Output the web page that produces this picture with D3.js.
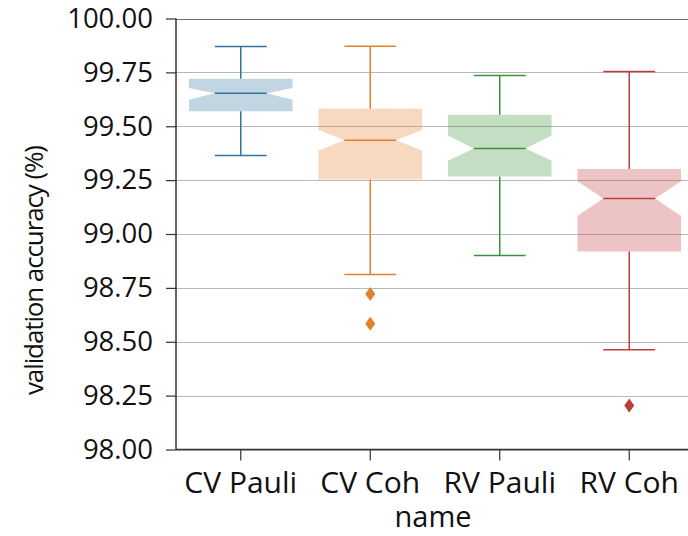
<!DOCTYPE html>
<html>
<head>
<meta charset="utf-8">
<script src="https://cdn.jsdelivr.net/npm/d3@7"></script>
<style>
  html, body { margin: 0; padding: 0; background: #fff; }
  svg { display: block; font-family: "Open Sans", "Noto Sans", sans-serif; }
</style>
</head>
<body>
<svg id="chart" width="688" height="536"></svg>
<script>
// Box statistics per model (validation accuracy, %)
const names       = ["CV Pauli", "CV Coh", "RV Pauli", "RV Coh"];
const whiskerHigh = [99.870, 99.871, 99.735, 99.754];
const q3          = [99.720, 99.581, 99.553, 99.302];
const notchHigh   = [99.678, 99.483, 99.457, 99.245];
const medians     = [99.653, 99.435, 99.397, 99.165];
const notchLow    = [99.623, 99.387, 99.340, 99.083];
const q1          = [99.570, 99.253, 99.267, 98.919];
const whiskerLow  = [99.364, 98.812, 98.900, 98.463];
const outliers    = [[], [98.722, 98.583], [], [98.204]];
const colors      = ["#3274a1", "#e1812c", "#3a923a", "#c03d3e"];
const yTicks      = [98.00, 98.25, 98.50, 98.75, 99.00, 99.25, 99.50, 99.75, 100.00];

const svg = d3.select("#chart");

const plotLeft = 176, plotRight = 694, plotTop = 18.5, plotBottom = 449.5;

const x = d3.scaleBand().domain(names).range([plotLeft, plotRight]).padding(0);
const y = d3.scaleLinear().domain([98, 100]).range([plotBottom, plotTop]);

// Horizontal grid
svg.append("g")
  .selectAll("line")
  .data(yTicks)
  .join("line")
  .attr("x1", plotLeft).attr("x2", 688)
  .attr("y1", d => Math.round(y(d)) + 0.5).attr("y2", d => Math.round(y(d)) + 0.5)
  .attr("stroke", d => d === 100 ? "#707070" : "#b8b8b8")
  .attr("stroke-width", 1.2);

// Boxes
const boxW = x.bandwidth() * 0.8;
const capW = boxW / 2;

const boxes = svg.append("g")
  .selectAll("g")
  .data(names.map((n, i) => ({ n, i })))
  .join("g");

boxes.append("path")
  .attr("d", ({ n, i }) => {
    const cx = x(n) + x.bandwidth() / 2;
    const l = cx - boxW / 2, r = cx + boxW / 2;
    const nl = cx - capW / 2, nr = cx + capW / 2;
    return d3.line()([
      [l, y(q1[i])], [l, y(notchLow[i])], [nl, y(medians[i])], [l, y(notchHigh[i])],
      [l, y(q3[i])], [r, y(q3[i])], [r, y(notchHigh[i])], [nr, y(medians[i])],
      [r, y(notchLow[i])], [r, y(q1[i])]
    ]) + "Z";
  })
  .attr("fill", ({ i }) => colors[i])
  .attr("fill-opacity", 0.3)
  .attr("stroke", "none");

// Whiskers, caps, medians and fliers
boxes.each(function ({ n, i }) {
  const g = d3.select(this);
  const cx = x(n) + x.bandwidth() / 2;
  const c = colors[i];
  const seg = (x1, y1, x2, y2) => g.append("line")
    .attr("x1", x1).attr("y1", y1).attr("x2", x2).attr("y2", y2)
    .attr("stroke", c).attr("stroke-width", 1.5);
  seg(cx, y(q3[i]), cx, y(whiskerHigh[i]));
  seg(cx, y(q1[i]), cx, y(whiskerLow[i]));
  seg(cx - capW / 2, y(whiskerHigh[i]), cx + capW / 2, y(whiskerHigh[i]));
  seg(cx - capW / 2, y(whiskerLow[i]), cx + capW / 2, y(whiskerLow[i]));
  seg(cx - capW / 2, y(medians[i]), cx + capW / 2, y(medians[i]));

  g.selectAll("path.flier")
    .data(outliers[i])
    .join("path")
    .attr("class", "flier")
    .attr("d", v => {
      const py = y(v);
      return `M${cx},${py - 7}L${cx + 5},${py}L${cx},${py + 7}L${cx - 5},${py}Z`;
    })
    .attr("fill", c);
});

// Y axis
const yAxis = svg.append("g")
  .attr("transform", `translate(${plotLeft},0)`)
  .call(d3.axisLeft(y).tickValues(yTicks).tickFormat(d3.format(".2f")).tickSize(10).tickPadding(13));
yAxis.select(".domain").attr("stroke", "#333").attr("stroke-width", 1.5).attr("d", `M0,${plotTop}V${plotBottom}`);
yAxis.selectAll(".tick line").attr("stroke", "#333").attr("stroke-width", 1.2);
yAxis.selectAll(".tick text").attr("font-size", 27.5).attr("fill", "#111").attr("font-family", "Open Sans");

// X axis
const xAxis = svg.append("g")
  .attr("transform", `translate(0,${plotBottom})`)
  .call(d3.axisBottom(x).tickSize(11));
xAxis.select(".domain").attr("stroke", "#333").attr("stroke-width", 1.5).attr("d", `M${plotLeft},0H${plotRight}`);
xAxis.selectAll(".tick line").attr("stroke", "#333").attr("stroke-width", 1.2);
xAxis.selectAll(".tick text")
  .attr("y", 43.5).attr("dy", null)
  .attr("font-size", 30).attr("fill", "#111").attr("font-family", "Open Sans");

// Axis titles
svg.append("text")
  .attr("x", 433).attr("y", 527)
  .attr("text-anchor", "middle")
  .attr("font-size", 29).attr("fill", "#111")
  .text("name");

svg.append("text")
  .attr("transform", "translate(43,270) rotate(-90)")
  .attr("text-anchor", "middle")
  .attr("font-size", 26)
  .attr("textLength", 250).attr("lengthAdjust", "spacing")
  .attr("fill", "#111")
  .text("validation accuracy (%)");
</script>
</body>
</html>
